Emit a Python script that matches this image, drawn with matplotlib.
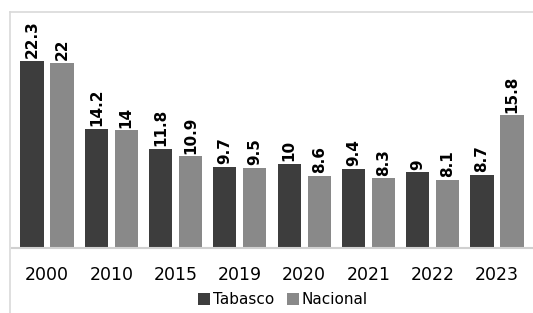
import matplotlib.pyplot as plt
from matplotlib.lines import Line2D
import numpy as np

years = ['2000', '2010', '2015', '2019', '2020', '2021', '2022', '2023']
tabasco = [22.3, 14.2, 11.8, 9.7, 10, 9.4, 9, 8.7]
nacional = [22, 14, 10.9, 9.5, 8.6, 8.3, 8.1, 15.8]

W, H = 533, 313
fig = plt.figure(figsize=(W / 100, H / 100), dpi=100)
ax = fig.add_axes([12 / W, 1 - 248 / H, 1 - 12 / W, 236 / H])

x = np.arange(len(years))
bw = 0.36
off = 0.233
b1 = ax.bar(x - off, tabasco, bw, color='#3d3d3d', label='Tabasco')
b2 = ax.bar(x + off, nacional, bw, color='#898989', label='Nacional')

for bars, vals in ((b1, tabasco), (b2, nacional)):
    for r, v in zip(bars, vals):
        ax.annotate(f'{v:g}', (r.get_x() + r.get_width() / 2, r.get_height()),
                    xytext=(0, 2), textcoords='offset points', rotation=90,
                    ha='center', va='bottom', fontsize=11, fontweight='bold')

ax.set_xlim(-0.545, 7.56)
ax.set_ylim(0, 28.1)
ax.set_yticks([])
ax.set_xticks(x, years, fontsize=12.5)
ax.tick_params(axis='x', length=0, pad=13)
for s in ['top', 'right', 'left']:
    ax.spines[s].set_visible(False)
ax.spines['bottom'].set_color('#d0d0d0')
ax.spines['bottom'].set_linewidth(1.5)

# outer frame, only top and left edges are visible
fx, fy = 10 / W, 1 - 12 / H
fig.add_artist(Line2D([fx, 1.1], [fy, fy], transform=fig.transFigure,
                      color='#d9d9d9', linewidth=1.2))
fig.add_artist(Line2D([fx, fx], [fy, -0.1], transform=fig.transFigure,
                      color='#d9d9d9', linewidth=1.2))

fig.legend(loc='center', bbox_to_anchor=(283 / W, 1 - 300 / H), ncol=2,
           frameon=False, fontsize=11, handlelength=0.8, handleheight=0.8,
           handletextpad=0.2, columnspacing=0.8, borderpad=0)

fig.savefig('out.png', dpi=100)
